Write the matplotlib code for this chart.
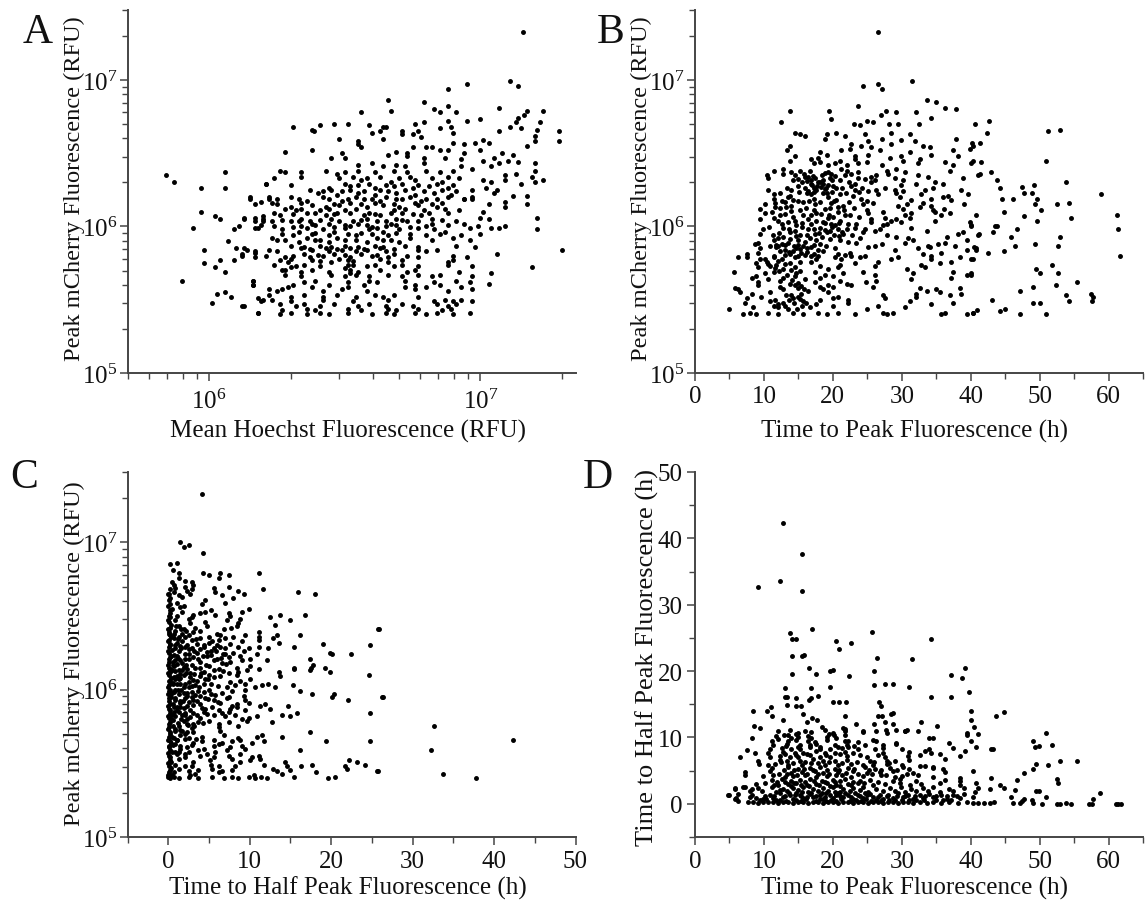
import numpy as np
import matplotlib
matplotlib.use("Agg")
import matplotlib.pyplot as plt
from matplotlib.ticker import FuncFormatter, LogLocator, MultipleLocator, NullFormatter

plt.rcParams['font.family'] = ['Liberation Serif', 'DejaVu Serif']
plt.rcParams['mathtext.default'] = 'regular'

# values, dense clouds by eye
# panel A: log10 Hoechst, log10 peak mCherry
hoechst_peak = [
7.155,7.33, 7.11,6.99, 7.14,6.96, 6.95,6.97, 6.88,6.94, 6.66,6.86, 6.79,6.85, 6.67,6.79, 6.56,6.78, 6.83,6.80, 6.85,6.78, 6.88,6.82,
6.91,6.78, 7.07,6.81, 7.17,6.79, 7.23,6.79, 7.16,6.76, 7.14,6.74, 7.00,6.73, 6.95,6.72, 7.22,6.71, 7.13,6.71, 7.11,6.68, 7.15,6.67,
7.07,6.65, 7.21,6.66, 7.29,6.65, 7.29,6.58, 7.20,6.62, 7.20,6.58, 7.01,6.59, 7.03,6.57, 6.98,6.57, 7.17,6.55, 7.00,6.52, 7.08,6.50,
7.12,6.49, 7.05,6.47, 7.01,6.45, 7.14,6.44, 7.20,6.43, 7.10,6.45, 7.07,6.43, 7.04,6.41, 6.97,6.39, 7.13,6.36, 7.20,6.38, 7.19,6.34,
7.23,6.32, 7.20,6.30, 7.15,6.29, 7.09,6.35, 7.09,6.32, 7.01,6.32, 7.04,6.30, 7.06,6.25, 7.02,6.26, 7.05,6.23, 7.12,6.21, 7.17,6.21,
7.17,6.15, 7.09,6.17, 7.09,6.13, 7.03,6.15, 6.97,6.19, 6.94,6.19, 7.01,6.10, 7.00,6.06, 7.03,6.05, 7.21,6.06, 7.21,5.98, 7.04,5.99,
7.07,5.99, 7.09,6.00, 6.99,6.00, 7.00,5.95, 7.30,5.84, 7.06,5.81, 7.19,5.72, 7.04,5.68, 7.03,5.61,
6.31,6.68, 6.38,6.66, 6.385,6.65, 6.41,6.69, 6.46,6.70, 6.51,6.70, 6.59,6.69, 6.64,6.68, 6.65,6.68, 6.60,6.64, 6.63,6.65, 6.71,6.65,
6.71,6.63, 6.75,6.63, 6.77,6.65, 6.78,6.61, 6.76,6.70, 6.79,6.71, 6.85,6.67, 6.88,6.72, 6.89,6.68, 6.90,6.64, 6.64,6.60, 6.48,6.60,
6.55,6.58, 6.55,6.56, 6.56,6.54, 6.38,6.52, 6.28,6.51, 6.75,6.54, 6.80,6.54, 6.82,6.54, 6.90,6.57, 6.94,6.56, 6.69,6.51, 6.73,6.50,
6.88,6.52, 6.85,6.52, 6.66,6.49, 6.49,6.50, 6.45,6.47, 6.50,6.47, 6.73,6.48, 6.79,6.47, 6.94,6.50, 6.93,6.46, 6.87,6.47,
5.84,6.35, 5.87,6.30, 5.94,5.99, 5.97,6.26, 5.97,6.10, 5.98,5.84, 5.98,5.75, 5.90,5.63, 6.01,5.48, 6.02,6.07, 6.04,6.05, 6.02,5.72,
6.04,5.77, 6.06,5.69, 6.06,6.37, 6.06,6.26, 6.03,5.54, 6.06,5.55, 6.08,5.52, 6.07,5.90, 6.09,5.98, 6.11,6.00, 6.10,5.85, 6.09,5.77,
6.12,5.46, 6.12,5.81, 6.13,6.06, 6.13,5.85, 6.15,6.20, 6.17,6.06, 6.17,5.99, 6.17,5.82, 6.16,5.63, 6.16,5.60, 6.18,5.41, 6.18,5.51,
6.20,5.50, 6.19,6.17, 6.20,6.07, 6.20,6.04, 6.21,6.29, 6.22,6.19,
6.55,6.42, 6.60,6.43, 6.64,6.41, 6.69,6.42, 6.72,6.41, 6.79,6.43, 6.93,6.41,
6.26,6.38, 6.28,6.37, 6.34,6.37, 6.43,6.38, 6.50,6.37, 6.55,6.38, 6.61,6.37, 6.68,6.38, 6.73,6.37, 6.80,6.38, 6.85,6.37, 6.90,6.38,
6.24,6.33, 6.34,6.34, 6.48,6.33, 6.53,6.34, 6.58,6.33, 6.63,6.34, 6.70,6.33, 6.74,6.34, 6.82,6.33, 6.88,6.34, 6.92,6.33,
6.21,6.29, 6.30,6.28, 6.50,6.29, 6.55,6.28, 6.59,6.29, 6.65,6.28, 6.71,6.29, 6.77,6.28, 6.84,6.29, 6.90,6.28,
6.37,6.25, 6.42,6.24, 6.45,6.25, 6.49,6.24, 6.52,6.25, 6.57,6.24, 6.63,6.25, 6.66,6.24, 6.72,6.25, 6.79,6.24, 6.86,6.25, 6.91,6.24, 6.97,6.25,
6.15,6.19, 6.22,6.20, 6.25,6.19, 6.30,6.20, 6.33,6.19, 6.42,6.20, 6.51,6.19, 6.54,6.20, 6.60,6.19, 6.65,6.20, 6.69,6.19, 6.74,6.20,
6.80,6.19, 6.88,6.20, 6.94,6.19, 6.97,6.20,
6.17,6.15, 6.23,6.16, 6.25,6.15, 6.34,6.16, 6.46,6.15, 6.52,6.16, 6.56,6.15, 6.61,6.16, 6.68,6.15, 6.76,6.16, 6.82,6.15, 6.86,6.16,
6.28,6.12, 6.32,6.11, 6.34,6.12, 6.41,6.11, 6.44,6.12, 6.50,6.11, 6.54,6.12, 6.68,6.11, 6.72,6.12, 6.79,6.11, 6.87,6.12, 6.92,6.11,
6.26,6.08, 6.36,6.09, 6.43,6.08, 6.47,6.09, 6.57,6.08, 6.59,6.09, 6.63,6.08, 6.71,6.09, 6.78,6.08, 6.88,6.09,
6.13,6.05, 6.17,6.04, 6.20,6.05, 6.30,6.04, 6.34,6.05, 6.37,6.04, 6.45,6.05, 6.53,6.04, 6.58,6.05, 6.65,6.04, 6.69,6.05, 6.73,6.04,
6.82,6.05, 6.91,6.04,
6.19,6.01, 6.38,6.02, 6.39,6.01, 6.44,6.02, 6.50,6.01, 6.55,6.02, 6.58,6.01, 6.67,6.02, 6.69,6.01, 6.82,6.02, 6.88,6.01, 6.94,6.02,
6.18,5.99, 6.27,5.98, 6.36,5.99, 6.42,5.98, 6.50,5.99, 6.59,5.98, 6.62,5.99, 6.70,5.98, 6.77,5.99, 6.83,5.98, 6.96,5.99,
6.27,5.95, 6.31,5.94, 6.38,5.95, 6.44,5.94, 6.51,5.95, 6.54,5.94, 6.60,5.95, 6.66,5.94, 6.74,5.95, 6.80,5.94, 6.85,5.95, 6.93,5.94,
6.23,5.92, 6.28,5.91, 6.36,5.92, 6.41,5.91, 6.47,5.92, 6.54,5.91, 6.62,5.92, 6.67,5.91, 6.74,5.92, 6.82,5.91, 6.90,5.92, 6.96,5.91,
6.30,5.87, 6.35,5.86, 6.41,5.87, 6.45,5.86, 6.50,5.87, 6.55,5.86, 6.61,5.87, 6.64,5.86, 6.72,5.87, 6.77,5.86, 6.91,5.87, 6.98,5.86,
6.14,5.84, 6.17,5.83, 6.22,5.84, 6.25,5.83, 6.38,5.84, 6.44,5.83, 6.49,5.84, 6.54,5.83, 6.58,5.84, 6.65,5.83, 6.77,5.84, 6.80,5.83, 6.84,5.84,
6.12,5.80, 6.17,5.79, 6.21,5.80, 6.28,5.79, 6.31,5.80, 6.37,5.79, 6.42,5.80, 6.52,5.79, 6.60,5.80, 6.66,5.79, 6.73,5.80, 6.77,5.79,
6.90,5.80, 6.95,5.79,
6.26,5.77, 6.29,5.76, 6.38,5.77, 6.45,5.76, 6.51,5.77, 6.66,5.76, 6.71,5.77, 6.88,5.76, 6.90,5.77,
6.24,5.74, 6.32,5.73, 6.35,5.74, 6.41,5.73, 6.51,5.74, 6.58,5.73, 6.61,5.74, 6.68,5.73, 6.71,5.74, 6.77,5.73, 6.88,5.74, 6.97,5.73,
6.27,5.70, 6.34,5.69, 6.38,5.70, 6.44,5.69, 6.52,5.70, 6.55,5.69, 6.63,5.70, 6.73,5.69, 6.76,5.70, 6.92,5.69,
6.28,5.67, 6.34,5.66, 6.45,5.67, 6.50,5.66, 6.54,5.67, 6.59,5.66, 6.66,5.67, 6.71,5.66, 6.77,5.67, 6.82,5.66, 6.85,5.67, 6.97,5.66,
6.16,5.63, 6.35,5.62, 6.39,5.63, 6.51,5.62, 6.59,5.63, 6.62,5.62, 6.72,5.63, 6.83,5.62, 6.91,5.63, 6.96,5.62,
6.16,5.60, 6.29,5.59, 6.31,5.60, 6.38,5.59, 6.44,5.60, 6.51,5.59, 6.57,5.60, 6.72,5.59, 6.76,5.60, 6.80,5.59, 6.85,5.60, 6.93,5.59,
6.22,5.57, 6.25,5.56, 6.27,5.57, 6.42,5.56, 6.49,5.57, 6.58,5.56, 6.76,5.57, 6.88,5.56, 6.97,5.57,
6.22,5.53, 6.30,5.52, 6.35,5.53, 6.42,5.52, 6.47,5.53, 6.54,5.52, 6.61,5.53, 6.64,5.52, 6.68,5.53, 6.77,5.52,
6.19,5.49, 6.23,5.50, 6.30,5.49, 6.42,5.50, 6.53,5.49, 6.66,5.50, 6.83,5.49, 6.87,5.50, 6.90,5.49, 6.93,5.50, 6.97,5.49,
6.13,5.46, 6.26,5.47, 6.32,5.46, 6.35,5.47, 6.41,5.46, 6.46,5.47, 6.55,5.46, 6.59,5.47, 6.65,5.46, 6.71,5.47, 6.75,5.46, 6.84,5.47, 6.88,5.46, 6.91,5.47,
6.27,5.43, 6.36,5.44, 6.39,5.43, 6.51,5.44, 6.56,5.43, 6.66,5.44, 6.69,5.43, 6.77,5.44, 6.86,5.43, 6.89,5.44,
6.18,5.41, 6.26,5.40, 6.30,5.41, 6.36,5.40, 6.41,5.41, 6.44,5.40, 6.51,5.41, 6.60,5.40, 6.65,5.41, 6.68,5.40, 6.76,5.41, 6.80,5.40,
6.84,5.41, 6.90,5.40, 6.96,5.41,
# second pass through the thick middle of the cloud
6.47,6.355, 6.56,6.315, 6.67,6.305, 6.76,6.315, 6.86,6.305, 6.44,6.265, 6.52,6.275, 6.61,6.265, 6.68,6.275, 6.75,6.265, 6.81,6.275, 6.88,6.265,
6.40,6.225, 6.47,6.215, 6.55,6.225, 6.61,6.215, 6.69,6.225, 6.76,6.215, 6.83,6.225, 6.89,6.215, 6.36,6.175, 6.44,6.185, 6.49,6.175, 6.57,6.185,
6.63,6.175, 6.71,6.185, 6.78,6.175, 6.84,6.185, 6.30,6.135, 6.38,6.145, 6.43,6.135, 6.48,6.145, 6.58,6.135, 6.64,6.145, 6.70,6.135, 6.77,6.145,
6.84,6.135, 6.24,6.095, 6.31,6.085, 6.39,6.095, 6.46,6.085, 6.52,6.095, 6.61,6.085, 6.67,6.095, 6.75,6.085, 6.81,6.095, 6.23,6.035, 6.27,6.045,
6.33,6.035, 6.41,6.045, 6.48,6.035, 6.56,6.045, 6.62,6.035, 6.71,6.045, 6.77,6.035, 6.86,6.045, 6.24,6.005, 6.31,5.995, 6.34,6.005, 6.46,5.995,
6.52,6.005, 6.60,5.995, 6.65,6.005, 6.74,5.995, 6.80,6.005, 6.33,5.965, 6.39,5.955, 6.46,5.965, 6.56,5.955, 6.64,5.965, 6.69,5.955, 6.87,5.965,
6.25,5.905, 6.33,5.895, 6.39,5.905, 6.44,5.895, 6.50,5.905, 6.58,5.895, 6.64,5.905, 6.70,5.895, 6.34,5.855, 6.37,5.845, 6.43,5.855, 6.47,5.845,
6.52,5.855, 6.57,5.845, 6.63,5.855, 6.68,5.845, 6.35,5.815, 6.40,5.805, 6.46,5.815, 6.50,5.805, 6.56,5.815, 6.62,5.805, 6.68,5.815,
6.30,5.775, 6.41,5.765, 6.48,5.775, 6.53,5.765, 6.63,5.775, 6.53,5.735, 6.50,5.715, 6.52,5.685, 6.30,5.725, 6.28,5.705,
]

# panel B: time to peak (h), log10 peak mCherry
tpeak_peak = [
26.5,7.33, 24.4,6.96, 26.5,6.97, 27.1,6.94, 31.5,6.99, 23.7,6.82, 33.6,6.86, 34.9,6.85, 36.2,6.81, 37.9,6.80, 13.8,6.79, 19.4,6.79,
27.7,6.79, 29.1,6.78, 32.1,6.78, 34.3,6.74, 27.0,6.76, 12.5,6.71, 19.7,6.73, 24.9,6.72, 25.8,6.71, 28.1,6.70, 29.5,6.70, 32.5,6.70,
23.0,6.70, 23.9,6.69, 42.6,6.72, 40.6,6.70, 42.3,6.64, 41.3,6.57, 40.2,6.57, 51.2,6.65, 53.0,6.66, 50.9,6.45, 41.5,6.44, 42.9,6.37,
41.4,6.36, 43.8,6.32, 44.2,6.26, 53.9,6.30, 47.4,6.27, 49.2,6.28, 48.9,6.23, 47.7,6.23, 58.9,6.22, 44.5,6.19, 46.2,6.19, 49.6,6.19,
49.4,6.15, 54.3,6.16, 52.5,6.15, 50.2,6.11, 44.9,6.10, 40.7,6.08, 47.7,6.07, 61.2,6.08, 54.5,6.06, 49.6,6.04, 39.9,6.03, 40.1,6.00,
43.5,6.00, 43.8,6.00, 61.4,5.98, 46.7,5.98, 43.3,5.96, 41.2,5.95, 45.9,5.93, 53.0,5.93, 49.4,5.88, 46.4,5.87, 52.6,5.87, 40.5,5.86,
40.8,5.84, 44.9,5.83, 42.5,5.82, 61.6,5.80, 40.1,5.78, 51.8,5.74, 49.5,5.71, 50.0,5.68, 52.6,5.68, 40.1,5.67, 55.4,5.62, 52.4,5.60,
49.0,5.59, 47.2,5.56, 53.8,5.53, 57.5,5.54, 57.7,5.52, 57.6,5.49, 54.3,5.49, 43.1,5.50, 49.0,5.48, 50.0,5.48, 45.0,5.44, 44.2,5.42,
40.9,5.43, 40.4,5.41, 47.2,5.40, 50.9,5.40, 5.0,5.44, 5.7,5.69, 5.8,5.58, 6.3,5.57, 6.5,5.55, 6.3,5.79,
14.5,6.64, 15.2,6.63, 15.9,6.62, 19.1,6.63, 20.5,6.64, 21.7,6.62, 24.6,6.63, 28.5,6.64, 31.2,6.63,
18.8,6.60, 25.1,6.58, 27.1,6.60, 29.9,6.59, 31.9,6.58, 37.9,6.60,
13.8,6.55, 22.7,6.56, 25.6,6.54, 24.1,6.55, 28.5,6.56, 33.1,6.55, 34.1,6.54, 40.3,6.55,
13.4,6.52, 18.1,6.51, 21.2,6.52, 22.5,6.53, 26.8,6.52, 31.2,6.51, 37.4,6.52, 39.9,6.53,
14.5,6.48, 19.1,6.49, 17.9,6.47, 23.2,6.48, 25.1,6.49, 28.3,6.47, 29.9,6.48, 34.3,6.49, 38.2,6.48,
13.8,6.45, 16.9,6.46, 18.1,6.44, 21.0,6.45, 23.2,6.46, 24.9,6.44, 30.2,6.45, 32.6,6.46, 36.2,6.44, 40.3,6.45,
17.2,6.43, 19.3,6.42, 20.3,6.43, 22.0,6.42, 23.7,6.43, 27.1,6.42, 32.4,6.43, 37.4,6.42, 40.1,6.43,
11.4,6.38, 12.8,6.39, 14.0,6.37, 15.2,6.38, 16.7,6.38, 19.3,6.37, 21.2,6.39, 22.0,6.38, 23.7,6.37, 27.8,6.38, 29.2,6.39, 30.4,6.37, 37.0,6.38,
10.5,6.35, 12.7,6.36, 14.5,6.35, 16.4,6.34, 18.4,6.35, 19.8,6.36, 21.7,6.35, 25.6,6.34, 26.3,6.35, 28.0,6.36, 32.4,6.35, 33.8,6.34, 41.0,6.35,
10.6,6.33, 14.2,6.32, 17.4,6.33, 18.6,6.32, 19.6,6.33, 21.0,6.32, 23.7,6.33, 26.1,6.32, 29.0,6.33, 30.2,6.32, 38.9,6.33,
16.9,6.29, 17.9,6.30, 19.3,6.28, 23.2,6.29, 25.6,6.30, 29.9,6.28, 32.1,6.29, 34.8,6.30, 36.0,6.29,
15.5,6.30, 16.2,6.31, 17.0,6.28, 18.6,6.29, 18.3,6.27, 19.0,6.26, 17.3,6.26,
10.6,6.25, 13.3,6.26, 14.0,6.25, 16.4,6.24, 17.6,6.25, 20.5,6.26, 23.2,6.25, 25.1,6.24, 26.3,6.25, 27.5,6.26, 29.0,6.25, 30.2,6.24, 33.3,6.25, 34.5,6.26, 38.6,6.25,
11.4,6.22, 12.3,6.23, 13.8,6.21, 16.9,6.22, 19.1,6.23, 21.0,6.22, 22.9,6.21, 26.6,6.22, 29.2,6.23, 32.8,6.22, 36.7,6.21, 39.6,6.22,
11.4,6.19, 13.5,6.20, 14.2,6.18, 17.2,6.19, 19.3,6.20, 20.5,6.18, 24.1,6.19, 29.7,6.20, 31.4,6.18, 34.3,6.19, 36.0,6.20, 37.2,6.18,
10.1,6.15, 11.6,6.16, 14.0,6.14, 17.4,6.15, 19.8,6.16, 21.5,6.14, 24.4,6.15, 25.8,6.16, 29.5,6.14, 30.7,6.15, 33.1,6.16, 34.3,6.14, 39.1,6.15,
9.4,6.12, 11.6,6.13, 15.2,6.11, 18.8,6.12, 20.8,6.13, 24.9,6.11, 30.2,6.12, 32.6,6.13, 34.5,6.11, 36.1,6.12,
10.1,6.09, 11.1,6.10, 15.7,6.08, 17.6,6.09, 20.8,6.10, 22.5,6.08, 25.1,6.09, 27.3,6.10, 30.4,6.08, 31.4,6.09, 34.8,6.10, 35.7,6.08, 37.0,6.09,
9.4,6.05, 11.4,6.06, 14.5,6.04, 16.4,6.05, 19.3,6.06, 21.0,6.04, 25.6,6.05, 27.5,6.06, 28.5,6.04, 29.2,6.05, 31.2,6.06, 34.8,6.04,
12.6,6.02, 13.5,6.03, 14.7,6.01, 16.9,6.02, 18.6,6.03, 20.3,6.01, 23.4,6.02, 25.6,6.03, 27.3,6.01, 27.8,6.02, 29.9,6.03, 40.1,6.01,
9.9,5.98, 12.8,5.99, 14.5,5.97, 16.4,5.98, 18.1,5.99, 19.6,5.97, 22.0,5.98, 23.2,5.99, 26.1,5.97, 26.8,5.98, 31.4,5.99, 33.6,5.97,
9.4,5.95, 13.8,5.96, 15.2,5.94, 17.4,5.95, 19.1,5.96, 20.1,5.94, 21.5,5.95, 24.4,5.96, 27.8,5.94, 38.2,5.95, 38.9,5.96, 41.0,5.94,
12.1,5.92, 12.8,5.93, 15.0,5.91, 16.7,5.92, 18.4,5.93, 21.0,5.91, 23.9,5.92, 29.2,5.93, 31.6,5.91, 30.9,5.92, 36.5,5.93, 39.4,5.91,
8.7,5.88, 9.2,5.89, 10.9,5.87, 12.6,5.88, 13.5,5.89, 15.7,5.87, 18.1,5.88, 23.4,5.89, 26.1,5.87, 27.1,5.88, 30.4,5.89, 33.8,5.87, 35.3,5.88, 36.2,5.89, 37.7,5.87,
9.4,5.85, 11.8,5.86, 13.0,5.84, 14.7,5.85, 16.9,5.86, 17.9,5.84, 20.3,5.85, 25.1,5.86, 29.0,5.84, 32.4,5.85, 34.1,5.86, 39.4,5.84, 40.8,5.85,
7.5,5.81, 9.2,5.82, 11.4,5.80, 13.8,5.81, 15.4,5.82, 16.9,5.80, 20.8,5.81, 22.5,5.82, 24.6,5.80, 33.1,5.81, 35.7,5.82, 34.3,5.80,
7.6,5.79, 9.4,5.78, 11.4,5.79, 12.6,5.78, 14.5,5.79, 17.6,5.78, 20.3,5.79, 21.2,5.78, 23.9,5.79, 28.5,5.78, 29.5,5.79, 34.3,5.78, 38.4,5.79, 40.3,5.78,
8.9,5.75, 10.4,5.76, 11.8,5.74, 13.8,5.75, 16.9,5.76, 21.0,5.74, 23.2,5.75, 26.6,5.76, 32.8,5.74, 35.5,5.75, 37.2,5.76,
9.2,5.72, 10.9,5.73, 12.8,5.71, 14.5,5.72, 18.1,5.73, 19.3,5.71, 20.8,5.72, 26.1,5.73, 30.7,5.71, 33.3,5.72,
10.1,5.68, 11.4,5.69, 13.3,5.67, 14.7,5.68, 17.4,5.69, 18.8,5.67, 21.5,5.68, 24.4,5.69, 26.1,5.67, 31.6,5.68, 37.4,5.69, 39.4,5.67, 40.1,5.68,
8.2,5.65, 8.9,5.66, 10.6,5.64, 12.8,5.65, 14.5,5.66, 15.9,5.64, 18.1,5.65, 20.0,5.66, 31.4,5.64, 37.2,5.65,
9.2,5.62, 12.3,5.63, 13.8,5.61, 17.4,5.62, 21.0,5.63, 22.0,5.61, 24.8,5.62, 26.3,5.63,
9.2,5.60, 12.3,5.59, 14.5,5.60, 18.1,5.59, 19.3,5.60, 20.0,5.59, 22.7,5.60, 25.8,5.59,
12.8,5.57, 15.0,5.58, 16.4,5.56, 18.6,5.57, 32.6,5.58, 33.6,5.56, 35.0,5.57, 38.4,5.58,
8.2,5.54, 10.9,5.55, 14.0,5.53, 15.4,5.54, 19.3,5.55, 27.3,5.53, 32.1,5.54, 35.5,5.55, 37.0,5.53, 38.6,5.54,
7.5,5.51, 9.6,5.52, 11.6,5.50, 14.2,5.51, 15.0,5.52, 18.1,5.50, 20.0,5.51, 20.8,5.52, 22.2,5.50, 27.5,5.51, 32.1,5.52,
7.2,5.48, 10.9,5.49, 12.1,5.47, 12.8,5.48, 15.7,5.49, 17.6,5.47, 22.2,5.48, 31.2,5.49, 34.3,5.47, 37.4,5.48,
8.4,5.45, 11.4,5.46, 13.5,5.44, 16.7,5.45, 20.0,5.46, 24.9,5.44, 30.4,5.45, 26.6,5.46, 12.0,5.45, 13.0,5.46, 14.8,5.44, 15.5,5.46,
7.0,5.40, 8.0,5.41, 8.9,5.40, 10.6,5.41, 12.1,5.40, 14.2,5.41, 15.7,5.40, 17.9,5.41, 19.1,5.40, 20.8,5.41, 23.2,5.40, 27.3,5.41, 27.8,5.40, 28.8,5.41, 35.7,5.40, 36.2,5.41, 39.4,5.40, 40.3,5.41,
# second pass through the thick part, t 10-25
15.8,6.355, 17.1,6.345, 18.9,6.365, 20.3,6.345, 22.6,6.355, 15.0,6.325, 15.9,6.335, 16.8,6.315, 18.2,6.305, 19.9,6.315, 22.4,6.305, 24.6,6.325,
15.0,6.275, 16.0,6.265, 17.7,6.275, 18.8,6.255, 20.0,6.275, 21.4,6.265, 22.6,6.275, 24.2,6.265, 15.1,6.235, 16.2,6.225, 17.3,6.235, 18.5,6.225,
19.9,6.235, 21.9,6.225, 23.8,6.235, 12.6,6.175, 13.1,6.165, 14.9,6.175, 15.7,6.165, 16.5,6.175, 18.2,6.165, 20.1,6.175, 22.4,6.165, 25.0,6.175,
12.4,6.125, 13.2,6.135, 14.0,6.105, 16.1,6.125, 17.2,6.115, 19.6,6.125, 21.6,6.115, 23.1,6.125, 12.3,6.075, 13.1,6.085, 14.2,6.065, 16.8,6.075,
18.3,6.085, 19.5,6.075, 20.0,6.065, 21.7,6.075, 23.8,6.065, 12.0,6.035, 15.5,6.025, 17.6,6.035, 18.8,6.025, 19.8,6.015, 20.9,6.025, 22.2,6.015,
10.8,5.995, 13.6,5.985, 15.5,5.995, 17.2,5.985, 18.8,5.975, 19.9,5.995, 20.8,5.985, 21.4,5.965, 24.6,5.985, 11.3,5.945, 12.2,5.955, 14.6,5.935,
16.2,5.945, 18.0,5.955, 20.9,5.935, 22.8,5.945, 11.5,5.905, 13.8,5.915, 15.9,5.895, 17.5,5.905, 19.6,5.915, 22.2,5.895, 11.7,5.875, 12.1,5.865,
13.1,5.875, 14.4,5.865, 15.0,5.875, 16.2,5.855, 17.3,5.875, 19.0,5.865, 12.3,5.835, 13.6,5.825, 14.2,5.835, 15.3,5.845, 16.3,5.825, 17.2,5.815,
18.5,5.835, 13.1,5.805, 14.9,5.795, 15.9,5.805, 17.9,5.795, 21.8,5.805, 22.6,5.795, 10.1,5.775, 10.6,5.745, 12.1,5.765, 13.0,5.745, 15.2,5.755,
11.6,5.715, 12.2,5.695, 13.9,5.705, 15.3,5.695, 14.1,5.635, 14.9,5.615, 15.4,5.595, 15.8,5.575, 13.2,5.535, 13.7,5.495, 14.4,5.475, 15.3,5.505, 16.1,5.475,
]

# panel C: time to half peak (h), log10 peak mCherry
thalf_peak = [
4.1,7.33, 1.5,7.00, 1.9,6.97, 2.5,6.98, 4.3,6.93, 0.25,6.85, 1.07,6.86, 0.6,6.81, 1.3,6.79, 4.3,6.79, 5.0,6.78, 6.4,6.79, 7.5,6.78, 11.2,6.79, 1.3,6.76, 6.2,6.76,
0.45,6.73, 2.9,6.73, 2.1,6.74, 0.65,6.71, 2.1,6.70, 3.1,6.71, 7.5,6.70, 0.25,6.68, 0.85,6.69, 2.3,6.67, 2.9,6.68, 5.6,6.69, 8.6,6.67, 11.6,6.68,
0.05,6.65, 0.65,6.66, 1.3,6.64, 2.7,6.65, 5.8,6.66, 6.6,6.64, 9.25,6.65, 15.9,6.66, 18.0,6.65, 0.25,6.62, 1.7,6.63, 4.55,6.61, 8.0,6.62,
0.25,6.58, 1.07,6.59, 1.9,6.57, 4.1,6.58, 7.0,6.59, 0.45,6.55, 1.5,6.56, 5.2,6.54, 9.9,6.55, 9.0,6.53, 0.25,6.52, 1.7,6.53, 3.1,6.51, 3.9,6.52,
4.55,6.53, 5.8,6.51, 7.4,6.52, 16.8,6.51, 0.25,6.49, 1.07,6.50, 2.5,6.48, 2.9,6.49, 7.6,6.50, 8.8,6.48, 12.5,6.49, 13.75,6.51, 14.9,6.47,
0.05,6.46, 0.85,6.47, 2.7,6.45, 4.55,6.46, 7.2,6.47, 8.6,6.45, 13.1,6.44, 0.25,6.42, 1.3,6.43, 1.9,6.41, 3.3,6.42, 4.75,6.43, 6.8,6.41, 7.7,6.42, 8.5,6.43, 25.8,6.41,
0.05,6.39, 0.85,6.40, 1.7,6.38, 3.1,6.39, 3.9,6.40, 6.0,6.38, 11.1,6.39, 16.2,6.37, 0.25,6.37, 1.3,6.36, 2.5,6.37, 5.0,6.36, 6.4,6.37, 8.0,6.36, 9.45,6.37, 11.1,6.36, 13.3,6.37,
0.05,6.34, 0.65,6.35, 1.7,6.33, 2.9,6.34, 3.9,6.35, 5.4,6.33, 6.2,6.34, 7.0,6.35, 9.0,6.33, 11.1,6.34, 12.9,6.35,
0.25,6.31, 1.07,6.32, 2.3,6.30, 3.5,6.31, 5.0,6.32, 6.0,6.30, 7.6,6.31, 13.55,6.32, 19.0,6.31,
0.05,6.29, 0.85,6.28, 2.1,6.29, 2.9,6.28, 4.35,6.29, 5.6,6.28, 6.4,6.29, 7.0,6.28, 8.6,6.29, 9.9,6.28, 11.1,6.29, 12.3,6.28, 15.5,6.29, 24.8,6.30,
0.05,6.25, 1.3,6.26, 2.5,6.24, 3.5,6.25, 5.2,6.26, 7.0,6.24, 8.0,6.25, 9.25,6.26, 10.9,6.24, 19.9,6.25, 22.4,6.24, 20.1,6.24,
0.25,6.22, 1.07,6.23, 2.1,6.21, 3.1,6.22, 4.75,6.23, 6.0,6.21, 7.4,6.22, 8.8,6.23, 10.1,6.21, 12.1,6.20, 17.4,6.21,
0.05,6.19, 0.85,6.20, 1.7,6.18, 3.9,6.19, 5.6,6.20, 6.6,6.18, 7.6,6.19, 9.0,6.20, 17.8,6.17, 17.5,6.15, 15.5,6.14,
0.05,6.15, 0.65,6.16, 2.3,6.14, 3.3,6.15, 5.0,6.16, 6.2,6.14, 8.4,6.15, 10.1,6.16, 11.1,6.14, 15.5,6.15, 17.35,6.13, 19.2,6.15, 19.9,6.12,
0.25,6.12, 1.3,6.13, 2.7,6.11, 4.35,6.12, 5.6,6.13, 7.4,6.11, 8.6,6.12, 9.7,6.13, 13.55,6.12,
0.05,6.10, 1.07,6.09, 1.9,6.10, 3.9,6.09, 5.0,6.10, 6.4,6.09, 8.5,6.10, 13.75,6.09, 24.6,6.10,
0.25,6.06, 0.85,6.07, 2.5,6.05, 3.5,6.06, 4.55,6.07, 7.6,6.05, 8.8,6.06, 10.1,6.07,
0.05,6.03, 1.07,6.04, 1.9,6.02, 3.3,6.03, 4.35,6.04, 7.2,6.02, 8.2,6.03, 9.45,6.04, 10.7,6.02, 11.5,6.03, 12.3,6.04, 13.1,6.02, 15.3,6.03,
0.05,5.99, 0.85,6.00, 2.3,5.98, 3.7,5.99, 5.0,6.00, 6.6,5.98, 7.8,5.99, 9.45,6.00, 16.2,5.99,
0.25,5.96, 1.3,5.97, 2.9,5.95, 3.9,5.96, 5.2,5.97, 7.4,5.95, 9.25,5.96, 17.6,5.97, 20.3,5.97, 20.1,5.95,
0.05,5.94, 0.85,5.93, 2.1,5.94, 3.1,5.93, 4.55,5.94, 5.6,5.93, 7.2,5.94, 9.45,5.93, 22.1,5.93, 26.35,5.95,
0.25,5.90, 1.5,5.91, 2.3,5.89, 3.9,5.90, 6.4,5.91, 7.8,5.89, 8.4,5.90, 9.9,5.91, 11.3,5.89, 11.9,5.90, 14.65,5.89,
0.05,5.87, 1.07,5.88, 2.7,5.86, 4.55,5.87, 5.35,5.88, 6.2,5.86, 7.6,5.87, 8.4,5.88, 9.45,5.86, 12.5,5.87, 14.0,5.83,
0.25,5.84, 1.3,5.85, 2.1,5.83, 3.1,5.84, 4.35,5.85, 5.6,5.83, 6.6,5.84, 7.4,5.85, 8.2,5.83, 15.0,5.82, 15.8,5.84, 24.8,5.84,
0.05,5.81, 0.85,5.82, 2.3,5.80, 3.9,5.81, 7.0,5.82, 9.0,5.80, 9.9,5.81, 10.9,5.82,
0.25,5.78, 1.9,5.79, 3.1,5.77, 3.7,5.78, 5.0,5.79, 6.2,5.77, 7.4,5.78, 9.65,5.79, 12.7,5.78,
0.05,5.745, 1.3,5.75, 2.9,5.74, 6.2,5.745, 8.6,5.75, 0.25,5.71, 0.85,5.72, 2.1,5.70, 3.1,5.71, 6.4,5.72, 11.5,5.69, 17.4,5.71,
0.05,5.68, 1.5,5.69, 2.5,5.67, 4.1,5.68, 6.9,5.69, 8.6,5.67, 10.9,5.68, 14.0,5.68,
0.25,5.65, 1.07,5.66, 3.1,5.64, 4.1,5.65, 5.6,5.66, 6.6,5.64, 7.8,5.65, 8.8,5.66, 10.25,5.64, 11.8,5.65, 19.4,5.65, 24.8,5.65,
0.05,5.62, 0.85,5.63, 2.3,5.61, 5.6,5.62, 6.2,5.63, 7.6,5.61, 9.0,5.62,
0.25,5.59, 1.5,5.60, 2.5,5.58, 3.7,5.59, 4.35,5.60, 5.8,5.58, 7.2,5.59, 9.45,5.60, 16.2,5.59,
0.05,5.55, 1.07,5.56, 2.1,5.54, 3.9,5.55, 4.75,5.56, 5.6,5.54, 7.4,5.55, 8.8,5.56, 10.25,5.54, 11.1,5.55,
0.25,5.52, 1.3,5.53, 3.1,5.51, 5.15,5.52, 7.8,5.53, 8.8,5.51, 10.1,5.52, 11.3,5.53, 14.35,5.51, 22.2,5.52, 23.2,5.51, 24.2,5.49,
0.05,5.485, 0.85,5.49, 2.1,5.48, 2.9,5.485, 5.2,5.49, 6.2,5.48, 8.2,5.485, 11.7,5.49, 14.6,5.48, 16.3,5.485, 17.7,5.49, 21.7,5.48,
0.25,5.457, 1.3,5.46, 2.5,5.45, 3.7,5.457, 5.35,5.46, 6.6,5.45, 7.8,5.457, 12.9,5.46, 13.3,5.45, 14.9,5.457, 21.9,5.46, 25.6,5.45,
0.05,5.43, 0.65,5.44, 2.7,5.42, 3.3,5.43, 6.2,5.44, 10.5,5.42, 14.0,5.43, 18.2,5.44,
0.0,5.405, 0.25,5.40, 0.7,5.405, 1.3,5.40, 2.6,5.405, 3.7,5.40, 5.35,5.405, 6.9,5.40, 7.8,5.405, 8.6,5.40, 9.9,5.405, 10.7,5.40, 11.4,5.405, 12.1,5.40, 15.5,5.405, 19.6,5.40, 20.5,5.405,
32.6,5.75, 32.2,5.59, 33.7,5.43, 37.8,5.40, 42.3,5.66, 26.3,5.95, 25.9,6.41, 25.7,5.45,
0.0,6.65, 0.1,6.61, 0.0,6.57, 0.2,6.54, 0.1,6.50, 0.0,6.47, 0.3,6.44, 0.0,6.41, 0.15,6.38, 0.4,6.36, 0.0,6.33, 0.2,6.30, 0.5,6.27, 0.0,6.26, 0.3,6.23, 0.1,6.21, 0.6,6.19, 0.0,6.17,
0.2,6.14, 0.5,6.13, 0.0,6.11, 0.35,6.08, 0.1,6.06, 0.6,6.04, 0.0,6.02, 0.2,6.00, 0.5,5.98, 0.0,5.97, 0.3,5.95, 0.1,5.92, 0.6,5.90, 0.0,5.89, 0.2,5.86, 0.5,5.83, 0.0,5.82, 0.3,5.80,
0.1,5.77, 0.6,5.75, 0.0,5.73, 0.2,5.70, 0.5,5.68, 0.0,5.66, 0.3,5.64, 0.1,5.61, 0.5,5.58, 0.0,5.57, 0.2,5.54, 0.4,5.51, 0.0,5.50, 0.3,5.47, 0.1,5.44, 0.5,5.42, 0.0,5.42,
1.6,6.28, 2.0,6.24, 1.5,6.20, 2.2,6.17, 1.7,6.13, 1.4,6.08, 2.0,6.04, 1.6,6.00, 2.3,5.96, 1.8,5.92, 1.4,5.88, 2.0,5.84, 1.6,5.80, 2.4,5.76, 1.7,5.72,
# second pass through the thick left part, t 0-8
0.9,6.435, 1.6,6.415, 2.2,6.395, 0.7,6.375, 1.2,6.345, 2.0,6.355, 3.4,6.345, 4.4,6.305, 0.8,6.305, 1.5,6.295, 2.6,6.275, 3.2,6.265, 3.9,6.275, 4.8,6.255,
5.9,6.265, 6.7,6.245, 0.7,6.235, 1.2,6.215, 2.6,6.205, 3.6,6.205, 4.3,6.225, 5.3,6.235, 6.5,6.215, 0.6,6.165, 1.1,6.175, 1.9,6.155, 2.9,6.165, 3.9,6.145, 4.6,6.165,
7.1,6.175, 0.8,6.125, 1.5,6.105, 2.2,6.115, 3.2,6.105, 4.0,6.115, 6.7,6.125, 0.7,6.085, 1.3,6.075, 2.7,6.085, 3.1,6.065, 4.9,6.075, 5.6,6.085, 0.6,6.045, 1.5,6.035,
2.5,6.015, 2.9,6.025, 3.8,6.015, 5.2,6.035, 6.1,6.025, 0.7,5.985, 1.2,5.995, 1.9,5.975, 2.9,5.985, 3.3,5.965, 4.4,5.985, 5.7,5.965, 0.8,5.945, 1.4,5.925, 2.6,5.915,
3.5,5.925, 4.9,5.935, 6.1,5.915, 0.7,5.885, 1.1,5.865, 1.9,5.875, 3.1,5.895, 4.1,5.875, 0.7,5.845, 1.7,5.825, 2.7,5.815, 3.5,5.825, 4.8,5.835, 0.6,5.795, 1.2,5.775,
2.3,5.765, 3.2,5.755, 4.3,5.775, 0.8,5.735, 1.5,5.725, 2.3,5.715, 0.7,5.675, 1.1,5.655, 2.0,5.665, 3.4,5.665, 0.6,5.625, 1.5,5.615, 2.9,5.625, 0.8,5.575, 1.3,5.575, 2.0,5.565,
]

# panel D: time to peak (h), time to half peak (h)
tpeak_thalf = [
12.75,42.3, 15.5,37.7, 9.1,32.6, 12.3,33.65, 15.5,32.1, 17.0,26.3, 13.8,25.7, 14.1,24.8, 14.7,24.8, 25.7,25.9, 34.3,24.8, 20.5,24.5, 22.7,24.2, 20.9,23.3,
14.1,22.2, 15.5,22.3, 15.8,22.4, 26.4,22.0, 31.5,21.8, 39.2,20.4, 16.5,20.5, 20.0,20.2, 19.6,20.0, 25.9,20.0, 14.1,19.6, 17.5,19.6, 22.4,19.2, 37.1,19.4, 38.8,19.0,
27.5,18.1, 28.7,18.1, 25.9,17.9, 31.1,17.6, 13.1,17.4, 16.8,17.4, 19.6,17.6, 39.8,16.8, 17.9,16.3, 13.1,16.1, 13.4,16.1, 14.7,16.0, 34.3,16.1, 37.1,16.1, 16.5,15.7,
16.8,15.9, 20.0,15.3, 20.9,15.4, 21.9,15.4, 26.7,15.4, 27.0,14.8, 13.3,14.9, 14.6,14.8, 15.4,14.7, 11.0,14.6, 8.4,14.0, 10.4,14.0, 40.1,14.0, 44.9,13.8, 28.4,13.6,
28.8,13.7, 15.6,13.5, 21.8,13.3, 43.7,13.3, 11.2,13.2, 26.6,13.2, 27.1,13.2, 17.0,13.0, 17.7,12.7, 12.7,12.6, 40.1,12.6, 32.8,12.4, 23.3,12.1, 16.2,12.3, 26.0,12.0,
27.6,12.3, 28.8,12.0, 8.6,11.8, 9.5,11.4, 35.1,11.8, 40.5,11.6, 18.4,11.6, 21.5,11.4, 21.8,11.2, 27.7,11.1, 29.1,11.1, 30.4,11.0, 30.8,11.1, 32.4,11.0, 24.4,11.0,
39.4,10.6, 41.0,10.5, 39.5,10.4, 50.9,10.7, 19.4,10.5, 20.2,10.4, 8.2,9.9, 40.1,9.5, 34.0,9.9, 34.5,9.9, 49.0,9.5, 36.9,9.2, 29.2,9.1, 51.8,8.8, 49.3,8.6, 49.9,8.7,
40.8,8.6, 43.0,8.2, 43.2,8.3, 37.5,8.4, 39.2,7.9, 7.6,8.1, 8.7,7.7, 34.3,7.7, 35.6,7.5, 38.5,7.2, 6.5,7.1, 36.3,6.8, 53.0,6.4, 55.4,6.4, 9.3,6.0, 49.5,6.0, 51.2,5.8,
49.1,5.2, 40.4,4.9, 47.7,4.6, 7.3,4.3, 42.9,3.9, 38.5,3.9, 52.5,3.8, 46.7,3.6, 52.6,3.2, 44.2,2.9, 44.9,2.4, 41.0,2.4, 46.4,2.1, 49.5,2.0, 49.9,1.9, 5.8,2.3, 7.2,2.5,
4.9,1.4, 58.8,1.7, 50.9,1.0, 57.8,0.8, 45.9,1.0, 47.8,0.8, 5.8,0.8, 6.3,0.5, 47.5,0.5, 47.2,0.1, 48.9,0.6, 49.0,0.1, 50.3,0.0, 52.5,0.0, 53.0,0.0, 53.9,0.05, 54.6,0.0,
57.2,0.0, 57.6,0.0, 61.1,0.0, 61.4,0.0, 61.8,0.0, 46.2,0.1,
12.0,10.9, 13.8,11.1, 15.0,10.7, 15.9,11.0, 16.9,10.8, 18.8,11.1, 20.0,10.7, 21.7,10.9, 24.4,10.8, 26.3,11.0, 27.8,10.7, 30.4,10.9,
11.8,10.2, 13.5,10.3, 15.0,10.0, 16.4,10.2, 19.1,10.1, 21.7,10.3,
11.1,9.5, 12.1,9.7, 13.5,9.4, 14.7,9.6, 16.4,9.5, 17.4,9.3, 19.1,9.6, 21.7,9.4, 22.2,9.5, 23.7,9.3, 25.8,9.6, 26.3,9.4,
11.3,8.9, 13.3,9.0, 15.2,8.8, 16.7,8.9, 17.6,9.0, 20.3,8.8, 22.0,8.9, 22.2,8.6, 24.6,8.9, 27.3,8.8, 29.2,9.0,
10.9,8.3, 12.6,8.4, 14.0,8.2, 15.2,8.3, 16.7,8.5, 18.1,8.2, 19.6,8.3, 21.3,8.4, 23.7,8.2, 26.1,8.3, 27.3,8.4, 30.0,8.2, 34.0,8.3,
10.6,7.7, 12.8,7.8, 14.5,7.6, 15.7,7.7, 17.6,7.9, 18.8,7.6, 20.3,7.7, 21.7,7.8, 22.9,7.6, 27.3,7.7, 31.1,7.8, 33.3,7.9,
10.9,7.1, 12.3,7.2, 13.8,7.0, 15.0,7.1, 16.7,7.3, 18.1,7.0, 19.6,7.1, 22.0,7.2, 24.9,7.0, 27.5,7.1, 30.9,7.2, 32.6,7.4,
9.2,6.5, 12.3,6.6, 13.3,6.4, 15.2,6.5, 17.1,6.7, 18.6,6.4, 20.3,6.5, 22.0,6.6, 25.4,6.4, 27.8,6.5, 29.0,6.4, 31.1,6.6,
10.6,5.9, 11.6,6.0, 13.5,5.8, 15.5,5.9, 16.9,6.1, 18.8,5.8, 20.8,5.9, 22.7,6.0, 24.4,5.8, 25.8,5.9, 27.8,6.0, 30.0,5.8, 32.6,5.7, 33.3,5.7, 34.5,5.6,
11.1,5.4, 13.5,5.5, 15.0,5.3, 16.7,5.4, 18.1,5.6, 20.3,5.3, 22.2,5.4, 24.6,5.5, 26.1,5.3, 28.3,5.4, 30.2,5.5, 31.1,5.3, 34.5,5.4, 36.0,5.3,
7.2,4.8, 10.9,4.9, 14.0,4.7, 15.5,4.8, 17.4,5.0, 18.6,4.7, 20.8,4.8, 22.9,4.9, 24.9,4.7, 26.8,4.8, 28.7,4.9, 31.6,4.7, 36.2,4.8,
9.9,4.2, 11.3,4.3, 13.0,4.1, 14.2,4.2, 15.9,4.4, 17.6,4.1, 19.1,4.2, 21.3,4.3, 22.7,4.1, 24.4,4.2, 27.0,4.3, 29.0,4.1, 30.0,4.2, 32.4,4.3, 34.5,4.1,
11.1,3.6, 12.6,3.7, 14.0,3.5, 15.2,3.6, 16.7,3.8, 18.4,3.5, 20.0,3.6, 21.7,3.7, 23.9,3.5, 25.4,3.6, 29.7,3.7, 32.1,3.5, 36.2,3.6, 38.4,3.5,
8.9,3.0, 10.1,3.1, 12.0,2.9, 13.5,3.0, 14.7,3.2, 16.2,2.9, 17.6,3.0, 19.1,3.1, 20.5,2.9, 22.2,3.0, 23.7,3.1, 25.8,2.9, 27.5,3.0, 29.7,3.1, 31.2,2.9, 32.8,3.0, 35.5,3.1, 38.4,2.9, 40.8,3.2,
5.8,2.4, 7.0,2.5, 8.2,2.3, 9.2,2.4, 11.1,2.6, 12.8,2.3, 14.2,2.4, 15.7,2.5, 17.1,2.3, 18.6,2.4, 20.0,2.6, 21.5,2.3, 22.9,2.4, 24.4,2.5, 26.3,2.3, 28.3,2.4, 29.9,2.5, 31.4,2.3, 33.1,2.4, 34.5,2.5, 36.9,2.3, 39.1,2.4, 42.8,2.2,
8.0,1.9, 9.7,2.0, 11.8,1.8, 13.3,1.9, 15.0,2.1, 16.4,1.8, 17.9,1.9, 19.3,2.0, 21.0,1.8, 22.5,1.9, 23.9,2.1, 25.1,1.8, 27.3,1.9, 29.0,2.0, 30.4,1.8, 32.1,1.9, 33.8,2.0, 35.5,1.8, 37.4,1.9, 40.6,1.8,
4.8,1.4, 6.3,1.5, 8.2,1.3, 10.9,1.4, 12.3,1.6, 13.8,1.3, 15.2,1.4, 16.7,1.5, 18.1,1.3, 19.6,1.4, 20.8,1.6, 22.2,1.3, 23.7,1.4, 25.4,1.5, 26.8,1.3, 28.0,1.4, 29.5,1.6, 30.9,1.3, 32.6,1.4, 34.0,1.5, 35.7,1.3, 37.4,1.4, 39.1,1.5,
6.0,0.9, 8.0,1.0, 9.9,0.8, 11.3,0.9, 12.8,1.1, 14.2,0.8, 15.7,0.9, 17.1,1.0, 18.6,0.8, 20.0,0.9, 21.5,1.1, 22.9,0.8, 24.4,0.9, 25.8,1.0, 27.3,0.8, 28.7,0.9, 30.2,1.1, 31.6,0.8, 33.1,0.9, 34.5,1.0, 36.5,0.8, 38.4,0.9, 40.3,1.0,
7.7,0.2, 8.45,0.3, 9.2,0.15, 9.9,0.2, 10.6,0.3, 11.3,0.2, 12.1,0.15, 12.8,0.2, 13.5,0.3, 14.2,0.15, 15.0,0.2, 15.7,0.3, 16.4,0.15, 17.1,0.2, 17.9,0.3, 18.6,0.15, 19.3,0.2,
20.0,0.3, 20.8,0.15, 21.5,0.2, 22.2,0.3, 22.9,0.15, 23.7,0.2, 24.4,0.3, 25.1,0.15, 25.8,0.2, 26.6,0.3, 27.3,0.15, 28.0,0.2, 28.7,0.3, 29.5,0.15, 30.2,0.2, 30.9,0.3, 31.6,0.15,
32.6,0.2, 33.6,0.1, 34.5,0.2, 35.7,0.15, 36.9,0.2, 38.2,0.15, 39.4,0.2, 40.3,0.15, 41.0,0.1, 42.0,0.15, 42.8,0.15, 43.4,0.2,
12.4,0.6, 13.2,0.5, 14.6,0.6, 15.4,0.5, 16.1,0.7, 17.5,0.5, 18.2,0.7, 19.0,0.5, 19.7,0.6, 20.5,0.5, 21.2,0.7, 22.5,0.5, 23.3,0.6, 24.1,0.5, 24.8,0.7, 25.5,0.5, 26.2,0.6, 27.0,0.5,
13.0,1.2, 14.5,1.3, 15.4,1.2, 16.2,1.1, 17.5,1.2, 18.9,1.1, 20.4,1.3, 21.1,1.2, 22.6,1.1, 24.0,1.2, 25.0,1.3, 26.5,1.1,
13.6,1.7, 14.6,1.6, 15.5,1.8, 16.8,1.7, 18.4,1.6, 19.0,1.7, 20.3,1.8, 21.7,1.7, 23.2,1.6, 24.7,1.7,
14.0,2.7, 15.4,2.8, 16.5,2.7, 18.0,2.8, 19.6,2.7, 21.0,2.7, 22.6,2.8,
# second pass through the lower band, t 10-30
10.3,0.7, 11.7,0.55, 9.4,0.65, 8.8,0.85, 10.2,1.15, 11.5,1.2, 12.3,2.05, 11.4,2.85, 11.9,3.35, 13.1,3.3, 14.4,3.15, 15.9,3.35, 17.2,3.45, 18.8,3.25, 20.3,3.3, 21.1,3.45, 22.9,3.3,
24.5,3.15, 26.6,3.35, 28.8,3.45, 12.2,4.55, 13.4,4.45, 14.8,4.35, 16.3,4.55, 17.9,4.45, 19.4,4.55, 20.5,4.35, 21.9,4.6, 23.6,4.45, 25.7,4.55, 27.7,4.4, 30.7,4.45, 12.9,5.15, 14.3,5.05,
15.8,5.2, 17.1,5.1, 19.2,5.15, 20.9,5.05, 23.0,5.2, 25.2,5.05, 27.0,5.15, 29.3,5.05, 12.5,6.25, 14.2,6.15, 16.0,6.3, 17.8,6.2, 19.4,6.25, 21.3,6.15, 23.5,6.25, 26.0,6.3, 28.2,6.15,
13.0,7.45, 14.7,7.35, 16.3,7.5, 19.0,7.35, 21.1,7.45, 23.9,7.4, 26.5,7.35, 13.2,8.65, 15.0,8.55, 18.2,8.6, 20.8,8.55, 23.0,8.65, 14.0,9.85, 16.9,9.95, 20.4,9.9, 12.9,10.4, 14.6,10.45,
27.2,0.6, 28.1,0.55, 29.0,0.65, 30.0,0.55, 31.0,0.6, 32.0,0.55, 33.2,0.6, 34.9,0.55, 36.0,0.6, 37.2,0.55, 27.9,1.15, 29.3,1.2, 30.5,1.15, 31.9,1.2, 33.4,1.15, 35.0,1.2, 36.6,1.15, 38.0,1.2,
]

W, H = 1145, 903
LINE = '#454545'
TEXT = '#111111'

def panel(left, right, top, bottom):
    return fig.add_axes([left/W, 1-bottom/H, (right-left)/W, (bottom-top)/H])

def style(ax):
    for s in ['top', 'right']:
        ax.spines[s].set_visible(False)
    for s in ['left', 'bottom']:
        ax.spines[s].set_color(LINE)
        ax.spines[s].set_linewidth(1.4)
    ax.tick_params(which='major', length=6, width=1.1, color=LINE, labelsize=18, labelcolor=TEXT, pad=3)
    ax.tick_params(which='minor', length=4, width=1.0, color=LINE)

def log_axis(axis):
    axis.set_major_locator(LogLocator(base=10, numticks=10))
    axis.set_minor_locator(LogLocator(base=10, subs=np.arange(2, 10), numticks=10))
    axis.set_major_formatter(FuncFormatter(lambda v, p: '$10^{%d}$' % round(np.log10(v))))
    axis.set_minor_formatter(NullFormatter())

fig = plt.figure(figsize=(W/100, H/100), dpi=100)
ax_a = panel(127.5, 575.5, 11, 374)
ax_b = panel(695, 1143, 11, 374)
ax_c = panel(127.5, 575.5, 473, 838)
ax_d = panel(695, 1143, 473, 838)

dot = dict(s=12.5, c='k', linewidths=0, clip_on=False)
a = np.array(hoechst_peak).reshape(-1, 2)
ax_a.scatter(10**a[:, 0], 10**a[:, 1], **dot)
b = np.array(tpeak_peak).reshape(-1, 2)
ax_b.scatter(b[:, 0], 10**b[:, 1], **dot)
c = np.array(thalf_peak).reshape(-1, 2)
ax_c.scatter(c[:, 0], 10**c[:, 1], **dot)
d = np.array(tpeak_thalf).reshape(-1, 2)
ax_d.scatter(d[:, 0], d[:, 1], **dot)

ax_a.set_xscale('log')
ax_a.set_xlim(5e5, 2.24e7)
log_axis(ax_a.xaxis)
for ax in [ax_a, ax_b, ax_c]:
    ax.set_yscale('log')
    ax.set_ylim(1e5, 3e7)
    log_axis(ax.yaxis)
for ax in [ax_b, ax_d]:
    ax.set_xlim(0, 65)
    ax.xaxis.set_major_locator(MultipleLocator(10))
    ax.xaxis.set_minor_locator(MultipleLocator(5))
ax_c.set_xlim(-5, 50)
ax_c.xaxis.set_major_locator(MultipleLocator(10))
ax_c.xaxis.set_minor_locator(MultipleLocator(5))
ax_d.set_ylim(-5, 50)
ax_d.yaxis.set_major_locator(MultipleLocator(10))
ax_d.yaxis.set_minor_locator(MultipleLocator(5))

labels = [(ax_a, 'Mean Hoechst Fluorescence (RFU)', 'Peak mCherry Fluorescence (RFU)', 0.493, -0.127, -0.095, 0.512, 17.6),
          (ax_b, 'Time to Peak Fluorescence (h)', 'Peak mCherry Fluorescence (RFU)', 0.491, -0.127, -0.095, 0.512, 17.6),
          (ax_c, 'Time to Half Peak Fluorescence (h)', 'Peak mCherry Fluorescence (RFU)', 0.493, -0.107, -0.095, 0.504, 17.6),
          (ax_d, 'Time to Peak Fluorescence (h)', 'Time to Half Peak Fluorescence (h)', 0.491, -0.107, -0.08, 0.495, 19)]
for ax, xl, yl, xx, xy, yx, yy, ysize in labels:
    style(ax)
    ax.set_xlabel(xl, fontsize=18, color=TEXT)
    ax.set_ylabel(yl, fontsize=ysize, color=TEXT)
    ax.xaxis.set_label_coords(xx, xy)
    ax.yaxis.set_label_coords(yx, yy)
ax_a.tick_params(axis='x', which='major', pad=5)
for ax in [ax_a, ax_b, ax_c]:
    ax.tick_params(axis='y', which='major', pad=1.5)

for s, px, py in [('A', 23, 33), ('B', 597, 33), ('C', 10, 478), ('D', 583, 478)]:
    fig.text(px/W, 1-py/H, s, fontsize=30, va='center', color=TEXT)

fig.savefig('out.png', dpi=100)
